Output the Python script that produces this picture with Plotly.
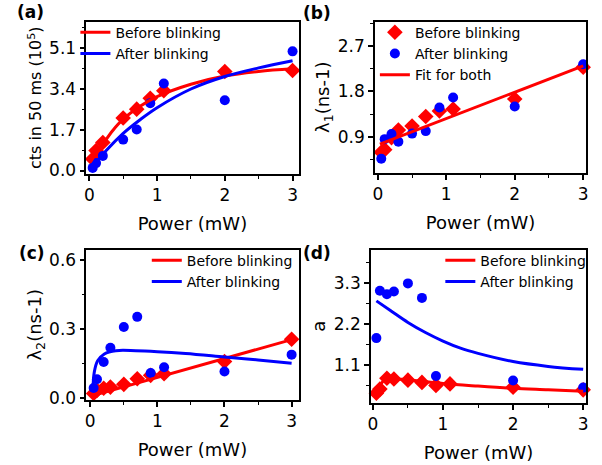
import plotly.graph_objects as go

# ---------------- data ----------------
# (a) counts in 50 ms (1e5)
pa = [0.05, 0.1, 0.2, 0.5, 0.7, 0.9, 1.1, 2, 3]
a_before = [0.48, 0.83, 1.17, 2.19, 2.56, 3.01, 3.33, 4.13, 4.17]
a_after = [0.11, 0.31, 0.61, 1.29, 1.71, 2.81, 3.63, 2.93, 4.97]
a_fit_bx = [0.015, 0.1, 0.2, 0.35, 0.5, 0.75, 1.0, 1.5, 2.0, 2.5, 3.0]
a_fit_by = [0.35, 0.70, 1.10, 1.68, 2.14, 2.68, 3.08, 3.60, 3.94, 4.13, 4.24]
a_fit_ax = [0.03, 0.25, 0.5, 0.75, 1.0, 1.5, 2.0, 2.5, 3.0]
a_fit_ay = [0.07, 0.83, 1.55, 2.12, 2.62, 3.40, 3.92, 4.28, 4.58]

# (b) lambda1
pb = [0.05, 0.1, 0.2, 0.3, 0.5, 0.7, 0.9, 1.1, 2, 3]
b_before = [0.59, 0.64, 0.88, 1.03, 1.11, 1.30, 1.41, 1.45, 1.65, 2.28]
b_after = [0.46, 0.85, 0.95, 0.80, 0.96, 1.01, 1.48, 1.68, 1.50, 2.34]
b_fit_x = [0.03, 3.0]
b_fit_y = [0.75, 2.31]

# (c) lambda2
pc = [0.05, 0.1, 0.2, 0.3, 0.5, 0.7, 0.9, 1.1, 2, 3]
c_before = [0.021, 0.035, 0.044, 0.049, 0.061, 0.085, 0.100, 0.107, 0.160, 0.257]
c_after = [0.045, 0.083, 0.158, 0.220, 0.310, 0.354, 0.110, 0.135, 0.117, 0.190]
c_fit_bx = [0.01, 3.0]
c_fit_by = [0.010, 0.255]
c_fit_ax = [0.04, 0.06, 0.11, 0.21, 0.38, 0.68, 1.0, 1.42, 2.0, 2.5, 3.0]
c_fit_ay = [0.037, 0.114, 0.163, 0.193, 0.207, 0.207, 0.203, 0.195, 0.180, 0.167, 0.153]

# (d) a
pd_red = [0.05, 0.1, 0.2, 0.3, 0.5, 0.7, 0.9, 1.1, 2, 3]
d_before = [0.34, 0.45, 0.74, 0.72, 0.69, 0.63, 0.55, 0.59, 0.50, 0.43]
pd_blue = [0.05, 0.1, 0.2, 0.3, 0.5, 0.7, 0.9, 2, 3]
d_after = [1.82, 3.09, 3.00, 3.07, 3.29, 2.90, 0.80, 0.68, 0.49]
d_fit_bx = [0.04, 0.1, 0.17, 0.25, 0.5, 1.0, 1.5, 2.0, 2.5, 3.0]
d_fit_by = [0.36, 0.55, 0.70, 0.73, 0.70, 0.60, 0.53, 0.47, 0.43, 0.39]
d_fit_ax = [0.05, 0.25, 0.5, 0.75, 1.0, 1.25, 1.5, 2.0, 2.5, 3.0]
d_fit_ay = [2.82, 2.56, 2.24, 1.97, 1.74, 1.55, 1.41, 1.19, 1.06, 0.98]

RED = "#ff0000"
BLUE = "#0000ff"
FONT = "DejaVu Sans"
W, H = 602, 465

fig = go.Figure()

def markers(x, y, color, symbol, xa, ya, name=None, legend=None, show=False):
    fig.add_trace(go.Scatter(
        x=x, y=y, mode="markers", name=name, showlegend=show,
        legend=legend, xaxis=xa, yaxis=ya, cliponaxis=False,
        marker=dict(color=color, symbol=symbol, size=10 if symbol == "circle" else 12,
                    line=dict(width=0))))

def line(x, y, color, xa, ya, name=None, legend=None, show=False, spline=True):
    fig.add_trace(go.Scatter(
        x=x, y=y, mode="lines", name=name, showlegend=show,
        legend=legend, xaxis=xa, yaxis=ya,
        line=dict(color=color, width=3, shape="spline" if spline else "linear",
                  smoothing=1.0)))

# (a)
markers(pa, a_before, RED, "diamond", "x", "y")
markers(pa, a_after, BLUE, "circle", "x", "y")
line(a_fit_bx, a_fit_by, RED, "x", "y", "Before blinking", "legend", True)
line(a_fit_ax, a_fit_ay, BLUE, "x", "y", "After blinking", "legend", True)

# (b)
markers(pb, b_before, RED, "diamond", "x2", "y2", "Before blinking", "legend2", True)
markers(pb, b_after, BLUE, "circle", "x2", "y2", "After blinking", "legend2", True)
line(b_fit_x, b_fit_y, RED, "x2", "y2", "Fit for both", "legend2", True, spline=False)

# (c)
markers(pc, c_before, RED, "diamond", "x3", "y3")
markers(pc, c_after, BLUE, "circle", "x3", "y3")
line(c_fit_bx, c_fit_by, RED, "x3", "y3", "Before blinking", "legend3", True, spline=False)
line(c_fit_ax, c_fit_ay, BLUE, "x3", "y3", "After blinking", "legend3", True)

# (d)
markers(pd_red, d_before, RED, "diamond", "x4", "y4")
markers(pd_blue, d_after, BLUE, "circle", "x4", "y4")
line(d_fit_bx, d_fit_by, RED, "x4", "y4", "Before blinking", "legend4", True)
line(d_fit_ax, d_fit_ay, BLUE, "x4", "y4", "After blinking", "legend4", True)

def xax(x0, x1, rng, anchor):
    return dict(domain=[x0 / W, x1 / W], range=rng, anchor=anchor,
                tickmode="linear", tick0=0, dtick=1,
                ticks="outside", ticklen=5, tickwidth=1.5, tickcolor="black",
                minor=dict(dtick=0.5, tick0=0, ticks="outside", ticklen=3,
                           tickwidth=1.2, tickcolor="black"),
                showline=True, mirror=True, linecolor="black", linewidth=1.5,
                showgrid=False, zeroline=False,
                tickfont=dict(family=FONT, size=17, color="black"),
                title=dict(text="Power (mW)", standoff=13,
                           font=dict(family=FONT, size=18, color="black")))

def yax(top, bot, rng, dt, anchor, title, tsize=18):
    return dict(domain=[1 - bot / H, 1 - top / H], range=rng, anchor=anchor,
                tickmode="linear", tick0=0, dtick=dt, tickformat=".1f",
                ticks="outside", ticklen=5, tickwidth=1.5, tickcolor="black",
                minor=dict(dtick=dt / 2, tick0=0, ticks="outside", ticklen=3,
                           tickwidth=1.2, tickcolor="black"),
                showline=True, mirror=True, linecolor="black", linewidth=1.5,
                showgrid=False, zeroline=False,
                tickfont=dict(family=FONT, size=17, color="black"),
                title=dict(text=title, standoff=3,
                           font=dict(family=FONT, size=tsize, color="black")))

def leg(x, y):
    return dict(x=x / W, y=1 - y / H, xanchor="left", yanchor="top",
                bgcolor="rgba(0,0,0,0)", borderwidth=0, tracegroupgap=0,
                itemwidth=30, font=dict(family=FONT, size=14, color="black"))

fig.update_layout(
    width=W, height=H, margin=dict(l=0, r=0, t=0, b=0),
    paper_bgcolor="white", plot_bgcolor="white",
    font=dict(family=FONT, color="black"),
    xaxis=xax(84, 298, [-0.044, 3.088], "y"),
    yaxis=yax(22, 177, [-0.143, 6.21], 1.7, "x", "cts in 50 ms (10<sup>5</sup>)", 16),
    xaxis2=xax(375, 588, [-0.043, 3.043], "y2"),
    yaxis2=yax(22, 176, [0.176, 3.19], 0.9, "x2", "λ<sub>1</sub>(ns-1)"),
    xaxis3=xax(84, 298, [-0.059, 3.103], "y3"),
    yaxis3=yax(254, 407, [-0.007, 0.646], 0.3, "x3", "λ<sub>2</sub>(ns-1)"),
    xaxis4=xax(371, 588, [-0.028, 3.042], "y4"),
    yaxis4=yax(254, 410, [0.078, 4.197], 1.1, "x4", "a"),
    legend=leg(73, 17),
    legend2=leg(375, 17),
    legend3=leg(145, 249),
    legend4=leg(441, 249),
)

for txt, x, y in [("(a)", 28, 12), ("(b)", 317, 13), ("(c)", 29, 257), ("(d)", 317, 257)]:
    fig.add_annotation(text="<b>%s</b>" % txt, x=x / W, y=1 - y / H, xref="paper", yref="paper",
                       xanchor="center", yanchor="middle", showarrow=False,
                       font=dict(family=FONT, size=17, color="black"))

fig.write_html("out.html")
